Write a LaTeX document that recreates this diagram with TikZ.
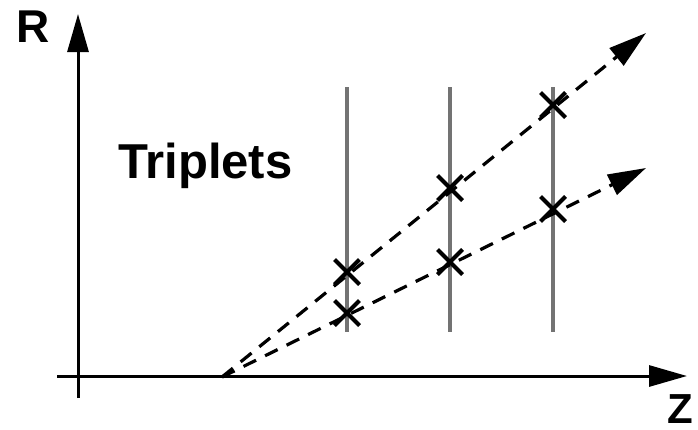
\documentclass[tikz,border=0pt]{standalone}
\usepackage{fontspec}
\setmainfont{Liberation Sans}
\usetikzlibrary{arrows.meta,shapes.misc}

\begin{document}
\begin{tikzpicture}[
  x=1pt, y=-1pt,
  axis/.style={line width=3pt, -{Triangle[length=38pt,width=21pt]}},
  track/.style={line width=4.5pt, black!55},
  ray/.style={line width=3.2pt, dash pattern=on 14pt off 10pt, -{Triangle[length=38pt,width=22pt]}},
  hit/.style={cross out, draw, line width=4pt, minimum size=21pt, inner sep=0pt},
  bigtext/.style={font=\bfseries\fontsize{46}{50}\selectfont, inner sep=0pt}
]
  \useasboundingbox (0,0) rectangle (698,429);

  % axes
  \coordinate (zstart) at (57,376);
  \coordinate (zend) at (687,376);
  \coordinate (rstart) at (78,398);
  \coordinate (rend) at (78,14);
  \draw[axis] (zstart) -- (zend);
  \draw[axis] (rstart) -- (rend);
  \node[bigtext, anchor=north west] (rlabel) at (16,11) {R};
  \node[bigtext, font=\bfseries\fontsize{42}{46}\selectfont, anchor=base east] (zlabel) at (693,423) {Z};

  % detector layers
  \foreach \lx [count=\i] in {347,450,553}
    \draw[track] (\lx,87) coordinate (top\i) -- (\lx,332) coordinate (bot\i);

  \node[bigtext, font=\bfseries\fontsize{49}{54}\selectfont, anchor=base west] (title) at (118,178) {Triplets};

  % track candidates
  \coordinate (vertex) at (222,377);
  \coordinate (tipa) at (646,33);
  \coordinate (tipb) at (646,168);
  \draw[ray] (vertex) -- (tipa);
  \draw[ray] (vertex) -- (tipb);

  % hits
  \node[hit] (ha1) at (347,272) {};
  \node[hit] (ha2) at (450,188) {};
  \node[hit] (ha3) at (553,105) {};
  \node[hit] (hb1) at (347,313) {};
  \node[hit] (hb2) at (450,262) {};
  \node[hit] (hb3) at (553,209) {};
\end{tikzpicture}
\end{document}
